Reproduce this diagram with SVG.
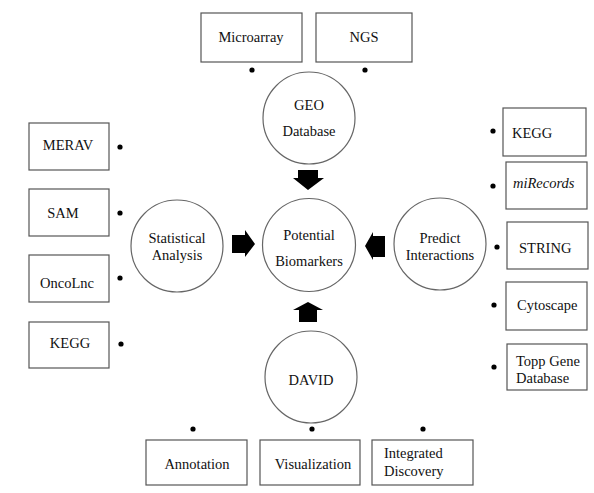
<svg xmlns="http://www.w3.org/2000/svg" width="594" height="493" viewBox="0 0 594 493" font-family="Liberation Serif, Times New Roman, DejaVu Serif, serif">
<style>
.box{fill:#fff;stroke:#555;stroke-width:1.2}
.circ{fill:#fff;stroke:#666;stroke-width:1.2}
.dot{fill:#000}
.arr{fill:#000}
text{font-family:'Liberation Serif','Times New Roman','DejaVu Serif',serif;font-size:14.5px;fill:#111}
.c{text-anchor:middle}
</style>
<rect width="594" height="493" fill="#fff"/>
<g id="connectors">
<polygon class="arr" points="298,170 318,170 318,178 324,178 308,190 293,178 298,178"/>
<polygon class="arr" points="232,235 245,235 245,230 255,244 245,257 245,253 232,253"/>
<polygon class="arr" points="385,236 373,236 373,232 365,246 373,260 373,257 385,257"/>
<polygon class="arr" points="299,322 317,322 317,310 323,310 308,302 293,310 299,310"/>
</g>
<g id="n-geo"><circle class="circ" cx="309" cy="118" r="46"/><text class="c" x="309" y="110">GEO</text><text class="c" x="309" y="136">Database</text></g>
<g id="n-potential"><circle class="circ" cx="309" cy="245" r="46.5"/><text class="c" x="309" y="240">Potential</text><text class="c" x="309" y="266">Biomarkers</text></g>
<g id="n-stat"><circle class="circ" cx="177" cy="246" r="46"/><text class="c" x="177" y="243">Statistical</text><text class="c" x="177" y="260">Analysis</text></g>
<g id="n-predict"><circle class="circ" cx="440" cy="244" r="46"/><text class="c" x="440" y="243">Predict</text><text class="c" x="440" y="260">Interactions</text></g>
<g id="n-david"><circle class="circ" cx="311" cy="377" r="46"/><text class="c" x="311" y="385">DAVID</text></g>
<g id="n-microarray"><rect class="box" x="201" y="13" width="101" height="49"/><text class="c" x="251" y="42">Microarray</text><circle class="dot" cx="252" cy="70" r="2.6"/></g>
<g id="n-ngs"><rect class="box" x="316" y="13" width="96" height="49"/><text class="c" x="364" y="42">NGS</text><circle class="dot" cx="365" cy="70" r="2.6"/></g>
<g id="n-merav"><rect class="box" x="29" y="123" width="80" height="47"/><text class="c" x="68" y="150">MERAV</text><circle class="dot" cx="120" cy="147" r="2.6"/></g>
<g id="n-sam"><rect class="box" x="29" y="189" width="80" height="47"/><text class="c" x="63" y="218">SAM</text><circle class="dot" cx="120" cy="213" r="2.6"/></g>
<g id="n-oncolnc"><rect class="box" x="29" y="255" width="80" height="47"/><text class="c" x="67" y="288">OncoLnc</text><circle class="dot" cx="120" cy="278" r="2.6"/></g>
<g id="n-kegg-left"><rect class="box" x="29" y="322" width="80" height="46"/><text class="c" x="70" y="348">KEGG</text><circle class="dot" cx="121" cy="344" r="2.6"/></g>
<g id="n-kegg-right"><rect class="box" x="503" y="108" width="83" height="48"/><text x="512" y="138">KEGG</text><circle class="dot" cx="493" cy="131" r="2.6"/></g>
<g id="n-mirecords"><rect class="box" x="506" y="162" width="81" height="47"/><text x="513" y="188" font-style="italic">miRecords</text><circle class="dot" cx="493" cy="186" r="2.6"/></g>
<g id="n-string"><rect class="box" x="507" y="222" width="81" height="47"/><text x="519" y="253">STRING</text><circle class="dot" cx="497" cy="247" r="2.6"/></g>
<g id="n-cytoscape"><rect class="box" x="506" y="282" width="81" height="48"/><text x="517" y="310">Cytoscape</text><circle class="dot" cx="494" cy="305" r="2.6"/></g>
<g id="n-toppgene"><rect class="box" x="507" y="344" width="80" height="46"/><text x="516" y="366">Topp Gene</text><text x="516" y="383">Database</text><circle class="dot" cx="494" cy="367" r="2.6"/></g>
<g id="n-annotation"><rect class="box" x="146" y="440" width="101" height="45"/><text class="c" x="197" y="469">Annotation</text><circle class="dot" cx="193" cy="429" r="2.6"/></g>
<g id="n-visualization"><rect class="box" x="260" y="440" width="100" height="45"/><text class="c" x="313" y="469">Visualization</text><circle class="dot" cx="312" cy="429" r="2.6"/></g>
<g id="n-integrated"><rect class="box" x="372" y="440" width="101" height="45"/><text x="384" y="458">Integrated</text><text x="384" y="476">Discovery</text><circle class="dot" cx="423" cy="429" r="2.6"/></g>
</svg>
